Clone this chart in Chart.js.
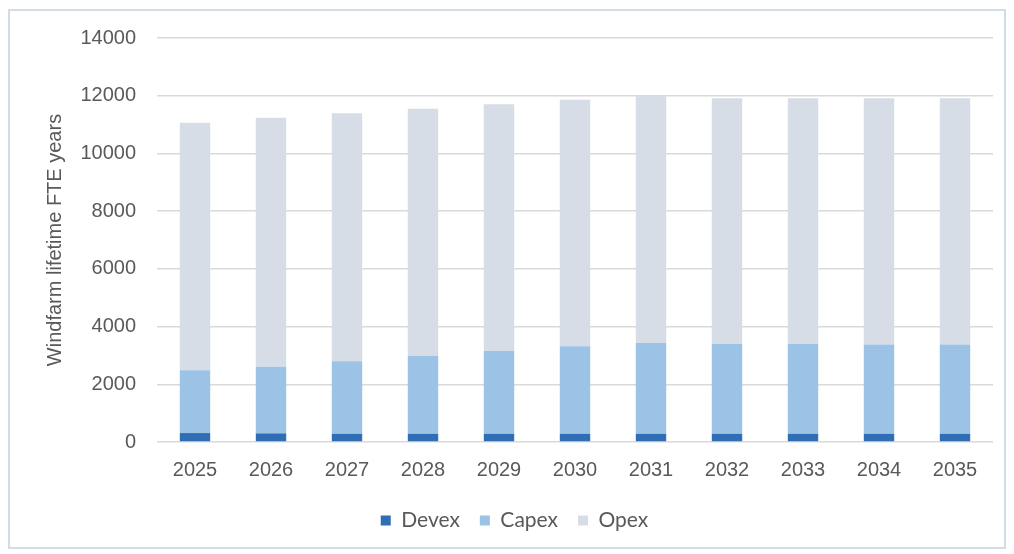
<!DOCTYPE html>
<html>
<head>
<meta charset="utf-8">
<script src="https://cdn.jsdelivr.net/npm/chart.js"></script>
<style>
    html, body { margin: 0; padding: 0; background: #ffffff; }
    #wrap { position: relative; width: 1014px; height: 554px; }
    #frame {
        position: absolute; left: 8px; top: 9px; width: 994px; height: 536px;
        border: 2px solid #d3dbe5; pointer-events: none;
    }
</style>
</head>
<body>
<div id="wrap">
    <canvas id="chart" width="1014" height="554"></canvas>
    <div id="frame"></div>
</div>
<script>
// Datos
const years = ['2025', '2026', '2027', '2028', '2029', '2030', '2031', '2032', '2033', '2034', '2035'];
const devex = [310, 300, 280, 280, 280, 280, 280, 280, 280, 280, 280];
const capex = [2180, 2310, 2520, 2710, 2870, 3040, 3150, 3120, 3120, 3100, 3100];
const opex = [8570, 8630, 8590, 8560, 8550, 8540, 8560, 8510, 8510, 8530, 8530];
const yTicks = [0, 2000, 4000, 6000, 8000, 10000, 12000, 14000];

document.addEventListener('DOMContentLoaded', function () {
    const ctx = document.getElementById('chart');
    const axisFont = { family: 'Liberation Sans', size: 20 };
    const legendFont = { family: 'Lato', size: 21 };

    new Chart(ctx, {
        type: 'bar',
        data: {
            labels: years,
            datasets: [
                { label: 'Devex', data: devex, backgroundColor: '#2f6db5' },
                { label: 'Capex', data: capex, backgroundColor: '#9cc2e6' },
                { label: 'Opex', data: opex, backgroundColor: '#d7dde6' }
            ]
        },
        options: {
            responsive: false,
            animation: false,
            layout: { padding: { left: 36, right: 21, top: 38, bottom: 13 } },
            datasets: { bar: { categoryPercentage: 1, barPercentage: 0.4 } },
            plugins: {
                legend: {
                    position: 'bottom',
                    labels: {
                        font: legendFont, color: '#595959',
                        boxWidth: 10, boxHeight: 10, padding: 20
                    }
                },
                tooltip: { enabled: false }
            },
            scales: {
                x: {
                    stacked: true,
                    grid: { display: false, drawTicks: false },
                    border: { display: false },
                    afterFit: function (scale) { scale.height = 48; },
                    ticks: { font: axisFont, color: '#595959', padding: 16 }
                },
                y: {
                    stacked: true,
                    min: 0,
                    max: 14000,
                    afterBuildTicks: function (scale) {
                        scale.ticks = yTicks.map(v => ({ value: v }));
                    },
                    afterFit: function (scale) { scale.width = 121; },
                    grid: { color: '#d9d9d9', lineWidth: 1.5, drawTicks: false },
                    border: { display: false },
                    ticks: {
                        font: axisFont, color: '#595959', padding: 21,
                        callback: v => String(v)
                    },
                    title: {
                        display: true,
                        text: 'Windfarm lifetime FTE years',
                        font: axisFont, color: '#595959',
                        padding: { top: 7, bottom: 0 }
                    }
                }
            }
        }
    });
});
</script>
</body>
</html>
